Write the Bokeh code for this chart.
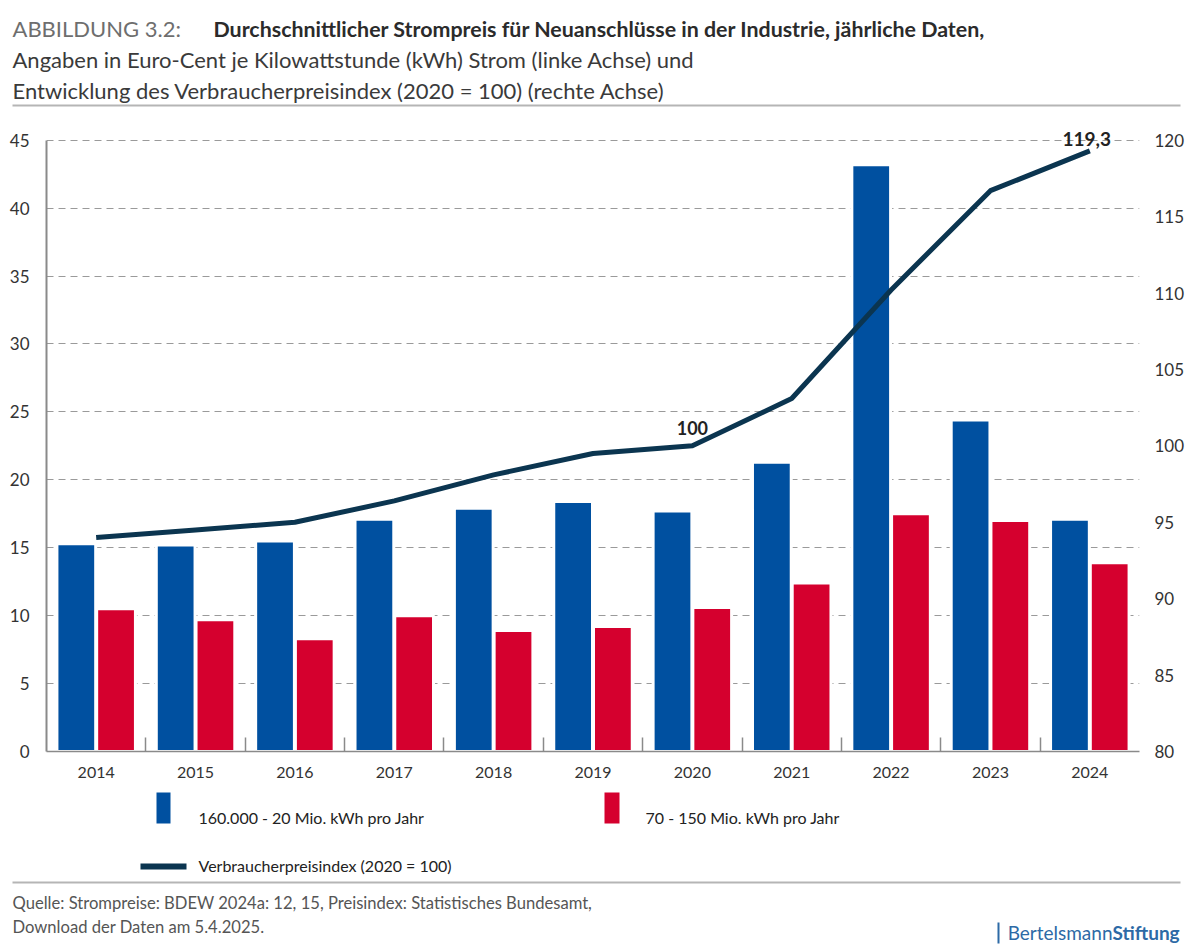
from bokeh.plotting import figure
from bokeh.layouts import column
from bokeh.models import ColumnDataSource, Range1d, LinearAxis, FixedTicker, Label
from bokeh.core.properties import value
from bokeh.transform import dodge
from bokeh.embed import file_html
from bokeh.resources import INLINE

# ---------------- data ----------------
years = [2014, 2015, 2016, 2017, 2018, 2019, 2020, 2021, 2022, 2023, 2024]
price_small = [15.3, 15.2, 15.5, 17.1, 17.9, 18.4, 17.7, 21.3, 43.2, 24.4, 17.1]  # 160.000 - 20 Mio. kWh
price_large = [10.5, 9.7, 8.3, 10.0, 8.9, 9.2, 10.6, 12.4, 17.5, 17.0, 13.9]     # 70 - 150 Mio. kWh
cpi = [94.0, 94.5, 95.0, 96.4, 98.1, 99.5, 100.0, 103.1, 110.2, 116.7, 119.3]
left_ticks = [0, 5, 10, 15, 20, 25, 30, 35, 40, 45]
right_ticks = [80, 85, 90, 95, 100, 105, 110, 115, 120]

name_small = "160.000 - 20 Mio. kWh pro Jahr"
name_large = "70 - 150 Mio. kWh pro Jahr"
name_cpi = "Verbraucherpreisindex (2020 = 100)"
title_prefix = "ABBILDUNG 3.2:"
title_bold = "Durchschnittlicher Strompreis für Neuanschlüsse in der Industrie, jährliche Daten,"
title_l2 = "Angaben in Euro-Cent je Kilowattstunde (kWh) Strom (linke Achse) und"
title_l3 = "Entwicklung des Verbraucherpreisindex (2020 = 100) (rechte Achse)"
source_l1 = "Quelle: Strompreise: BDEW 2024a: 12, 15, Preisindex: Statistisches Bundesamt,"
source_l2 = "Download der Daten am 5.4.2025."

BLUE = "#0050A0"
RED = "#D5002E"
NAVY = "#0B3550"
GRID = "#9a9a9a"
AXIS = "#8a8a8a"
TXT = "#333333"
BST = "#2d6aa6"
FONT = "Lato"

WIDTH = 1200
TOP_H, MAIN_H, BOT_H = 110, 680, 155
MAIN_Y0 = TOP_H
BOT_Y0 = TOP_H + MAIN_H


def pixel_figure(h):
    f = figure(width=WIDTH, height=h, output_backend="svg", toolbar_location=None,
               x_range=Range1d(0, WIDTH), y_range=Range1d(h, 0),
               min_border=0, x_axis_location=None, y_axis_location=None,
               outline_line_color=None, background_fill_color="white",
               border_fill_color="white", frame_align=False)
    f.xgrid.visible = False
    f.ygrid.visible = False
    return f


def put_text(f, y0, X, Y, s, size="16px", color=TXT, style="normal", align="left"):
    # Y is the vertical centre of the text line (page pixels)
    f.text(x=[X], y=[Y - y0], text=[s], text_font=value(FONT), text_font_size=value(size),
           text_color=color, text_font_style=style, text_align=align,
           text_baseline="middle")


def put_box(f, y0, X0, Y0, X1, Y1, color):
    f.quad(left=[X0], right=[X1], top=[Y0 - y0], bottom=[Y1 - y0],
           fill_color=color, line_color=None)


# ---------------- title ----------------
top = pixel_figure(TOP_H)
put_text(top, 0, 12, 28, title_prefix, size="22px", color="#6e6e6e")
put_text(top, 0, 213, 28, title_bold, size="21.4px", color="#2b2b2b", style="bold")
put_text(top, 0, 12, 59, title_l2, size="22px", color="#3a3a3a")
put_text(top, 0, 12, 90, title_l3, size="22px", color="#3a3a3a")
put_box(top, 0, 12, 104, 1180, 106, "#b5b5b5")

# ---------------- main chart ----------------
src = ColumnDataSource(dict(year=years, small=price_small, large=price_large, cpi=cpi))

Y_TOP = 46.6   # a little headroom above 45 for the "119,3" label
CPI_TOP = right_ticks[0] + Y_TOP * (right_ticks[-1] - right_ticks[0]) / left_ticks[-1]

p = figure(width=WIDTH, height=MAIN_H, output_backend="svg", toolbar_location=None,
           x_range=Range1d(years[0] - 0.5, years[-1] + 0.5), y_range=Range1d(0, Y_TOP),
           min_border_left=46, min_border_right=61, min_border_top=8, min_border_bottom=39,
           y_axis_location=None, x_axis_location=None, outline_line_color=None,
           background_fill_color="white", border_fill_color="white", frame_align=False)
p.extra_y_ranges = {"cpi": Range1d(right_ticks[0], CPI_TOP)}

xa = LinearAxis(ticker=FixedTicker(ticks=years, minor_ticks=[y + 0.5 for y in years[:-1]]))
xa.axis_line_color = AXIS
xa.axis_line_width = 1.5
xa.major_tick_line_color = None
xa.minor_tick_line_color = AXIS
xa.minor_tick_line_width = 1.5
xa.minor_tick_in = 14
xa.minor_tick_out = 0
xa.major_label_text_font = FONT
xa.major_label_text_font_size = "16px"
xa.major_label_text_color = TXT
xa.major_label_standoff = 9
p.add_layout(xa, "below")

ya = LinearAxis(ticker=FixedTicker(ticks=left_ticks), bounds=(left_ticks[0], left_ticks[-1]))
ya.axis_line_color = AXIS
ya.axis_line_width = 2
ya.major_tick_line_color = None
ya.minor_tick_line_color = None
ya.major_label_text_font = FONT
ya.major_label_text_font_size = "17px"
ya.major_label_text_color = TXT
ya.major_label_standoff = 11
p.add_layout(ya, "left")

ra = LinearAxis(y_range_name="cpi", ticker=FixedTicker(ticks=right_ticks),
                bounds=(right_ticks[0], right_ticks[-1]))
ra.axis_line_color = None
ra.major_tick_line_color = None
ra.minor_tick_line_color = None
ra.major_label_text_font = FONT
ra.major_label_text_font_size = "17px"
ra.major_label_text_color = TXT
ra.major_label_standoff = 9
p.add_layout(ra, "right")

p.xgrid.visible = False
p.ygrid.ticker = FixedTicker(ticks=left_ticks[1:])
p.ygrid.grid_line_color = GRID
p.ygrid.grid_line_dash = "7 5"
p.ygrid.grid_line_width = 1

p.vbar(x=dodge("year", -0.2, range=p.x_range), top="small", width=0.39, source=src,
       fill_color=BLUE, line_color="white", line_width=3)
p.vbar(x=dodge("year", 0.2, range=p.x_range), top="large", width=0.39, source=src,
       fill_color=RED, line_color="white", line_width=3)

p.line(x="year", y="cpi", source=src, y_range_name="cpi", line_color=NAVY,
       line_width=5, line_join="round")

i2020 = years.index(2020)
p.add_layout(Label(x=years[i2020], y=cpi[i2020], y_range_name="cpi", text=f"{cpi[i2020]:g}",
                   text_font=FONT, text_font_style="bold", text_font_size="18px",
                   text_color="#222222", text_align="center", text_baseline="bottom",
                   y_offset=11))
p.add_layout(Label(x=years[-1], y=cpi[-1], y_range_name="cpi",
                   text=f"{cpi[-1]:.1f}".replace(".", ","),
                   text_font=FONT, text_font_style="bold", text_font_size="19px",
                   text_color="#222222", text_align="center", text_baseline="bottom",
                   x_offset=-3, y_offset=5))

# ---------------- legend + footer ----------------
bot = pixel_figure(BOT_H)
put_box(bot, BOT_Y0, 156, 792, 170, 823, BLUE)
put_text(bot, BOT_Y0, 198, 817, name_small, size="16px", color="#222222")
put_box(bot, BOT_Y0, 604, 792, 619, 823, RED)
put_text(bot, BOT_Y0, 645, 817, name_large, size="16px", color="#222222")
put_box(bot, BOT_Y0, 140, 863, 186, 869, NAVY)
put_text(bot, BOT_Y0, 198, 865, name_cpi, size="16px", color="#222222")

put_box(bot, BOT_Y0, 12, 881, 1180, 883, "#b5b5b5")
put_text(bot, BOT_Y0, 12, 902, source_l1, size="16.6px", color="#555555")
put_text(bot, BOT_Y0, 12, 926, source_l2, size="16.6px", color="#555555")
put_box(bot, BOT_Y0, 997, 922, 999, 943, BST)
put_text(bot, BOT_Y0, 1112, 932, "Bertelsmann", size="19px", color=BST, align="right")
put_text(bot, BOT_Y0, 1112, 932, "Stiftung", size="19px", color=BST, style="bold")

layout = column(top, p, bot, spacing=0)
open("out.html", "w").write(file_html(layout, INLINE))
